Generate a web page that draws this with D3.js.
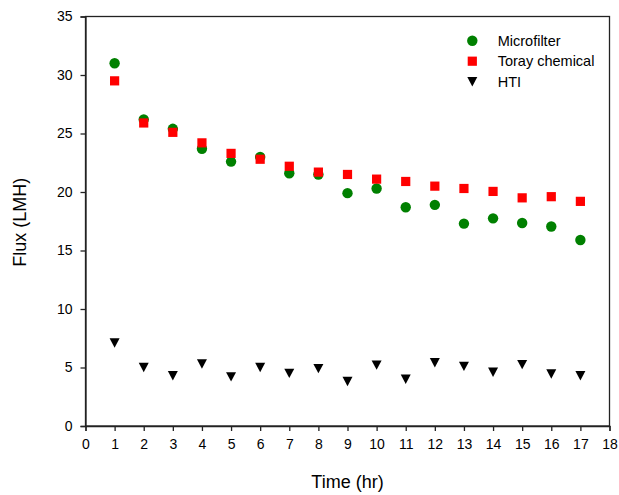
<!DOCTYPE html>
<html>
<head>
<meta charset="utf-8">
<script src="https://cdn.jsdelivr.net/npm/d3@7"></script>
<style>
  html, body { margin: 0; padding: 0; background: #fff; }
  svg { display: block; font-family: "Liberation Sans", Arial, sans-serif; }
</style>
</head>
<body>
<svg id="chart" width="619" height="495"></svg>
<script>
// Flux over time for three membranes
const hours = [1, 2, 3, 4, 5, 6, 7, 8, 9, 10, 11, 12, 13, 14, 15, 16, 17];
const microfilter = [31.0, 26.2, 25.4, 23.7, 22.6, 23.0, 21.6, 21.5, 19.9, 20.3, 18.7, 18.9, 17.3, 17.75, 17.35, 17.05, 15.9];
const toray = [29.5, 25.9, 25.1, 24.2, 23.3, 22.8, 22.2, 21.7, 21.5, 21.1, 20.9, 20.5, 20.3, 20.05, 19.5, 19.6, 19.2];
const hti = [7.1, 5.0, 4.3, 5.3, 4.2, 5.0, 4.5, 4.9, 3.8, 5.2, 4.0, 5.4, 5.1, 4.6, 5.25, 4.45, 4.3];
const xTicks = d3.range(0, 19, 1);
const yTicks = [0, 5, 10, 15, 20, 25, 30, 35];
const seriesNames = ["Microfilter", "Toray chemical", "HTI"];

const svg = d3.select("#chart");
const plotLeft = 85.5, plotRight = 609.5, plotTop = 16.5, plotBottom = 426;

const x = d3.scaleLinear().domain([0, 18]).range([plotLeft, plotRight]);
const y = d3.scaleLinear().domain([0, 35]).range([plotBottom, plotTop]);

// Frame
svg.append("rect")
  .attr("x", plotLeft).attr("y", plotTop)
  .attr("width", plotRight - plotLeft).attr("height", plotBottom - plotTop)
  .attr("fill", "none").attr("stroke", "#222").attr("stroke-width", 1.3);

// Axes
const xAxis = svg.append("g")
  .attr("transform", `translate(0,${plotBottom})`)
  .call(d3.axisBottom(x).tickValues(xTicks).tickSizeOuter(0).tickSize(5).tickPadding(8).tickFormat(d3.format("d")));
const yAxis = svg.append("g")
  .attr("transform", `translate(${plotLeft},0)`)
  .call(d3.axisLeft(y).tickValues(yTicks).tickSizeOuter(0).tickSize(5).tickPadding(8).tickFormat(d3.format("d")));

[xAxis, yAxis].forEach(g => {
  g.select(".domain").attr("stroke", "#222").attr("stroke-width", 1.3);
  g.selectAll(".tick line").attr("stroke", "#222").attr("stroke-width", 1.3);
  g.selectAll(".tick text")
    .attr("fill", "#000")
    .style("font-size", "14px")
    .style("font-family", '"Liberation Sans", Arial, sans-serif');
});

// Axis titles
svg.append("text")
  .attr("x", (plotLeft + plotRight) / 2).attr("y", 488)
  .attr("text-anchor", "middle")
  .style("font-size", "18px")
  .text("Time (hr)");
svg.append("text")
  .attr("transform", `translate(26,${(plotTop + plotBottom) / 2 + 1}) rotate(-90)`)
  .attr("text-anchor", "middle")
  .style("font-size", "18px")
  .text("Flux (LMH)");

// Marker shapes
const tri = "M-5,-4.7L5,-4.7L0,4.7Z";

const data = (vals) => hours.map((h, i) => ({ h, v: vals[i] }));

svg.append("g").selectAll("circle")
  .data(data(microfilter)).join("circle")
  .attr("cx", d => x(d.h)).attr("cy", d => y(d.v))
  .attr("r", 5.2).attr("fill", "#008000");

svg.append("g").selectAll("rect")
  .data(data(toray)).join("rect")
  .attr("x", d => x(d.h) - 4.6).attr("y", d => y(d.v) - 4.6)
  .attr("width", 9.2).attr("height", 9.2).attr("fill", "#ff0000");

svg.append("g").selectAll("path")
  .data(data(hti)).join("path")
  .attr("d", tri)
  .attr("transform", d => `translate(${x(d.h)},${y(d.v)})`)
  .attr("fill", "#000");

// Legend
const legend = svg.append("g").attr("transform", "translate(472.3,40.7)");
const rowGap = 20.5;
legend.append("circle").attr("cx", 0).attr("cy", 0).attr("r", 5.2).attr("fill", "#008000");
legend.append("rect").attr("x", -4.6).attr("y", rowGap - 4.6).attr("width", 9.2).attr("height", 9.2).attr("fill", "#ff0000");
legend.append("path").attr("d", tri).attr("transform", `translate(0,${rowGap * 2})`).attr("fill", "#000");
legend.selectAll("text.lbl")
  .data(seriesNames).join("text")
  .attr("class", "lbl")
  .attr("x", 25.4).attr("y", (d, i) => i * rowGap + 5.2)
  .style("font-size", "14.5px")
  .text(d => d);
</script>
</body>
</html>
